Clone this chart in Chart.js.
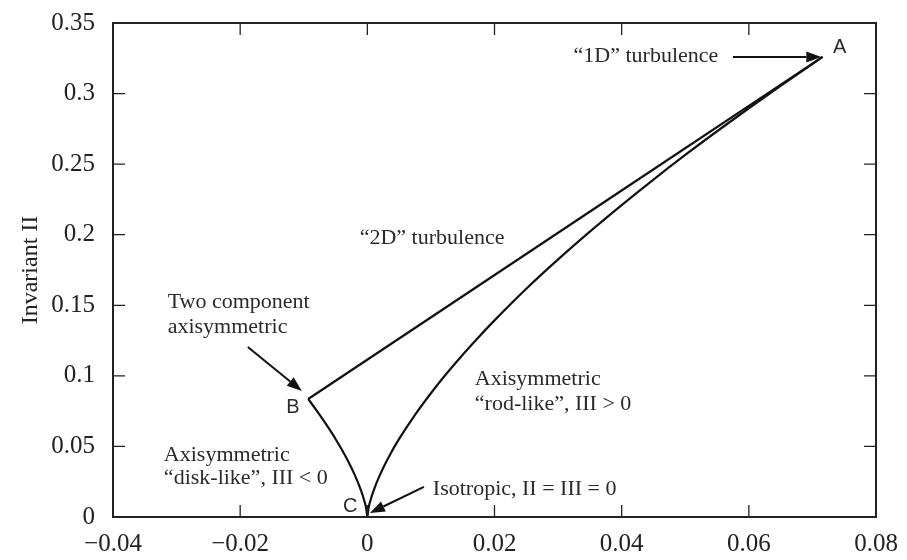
<!DOCTYPE html>
<html>
<head>
<meta charset="utf-8">
<title>Lumley triangle</title>
<script src="https://cdn.jsdelivr.net/npm/chart.js@4.4.1/dist/chart.umd.min.js"></script>
<style>
    html, body { margin: 0; padding: 0; background: #fff; }
    canvas { display: block; }
</style>
</head>
<body>
<canvas id="chart" width="907" height="560"></canvas>
<script>
// ========================================
// DATA - [III, II]
// ========================================
const rodLikeIII = [0, 0.0002, 0.0005, 0.001, 0.002, 0.0035, 0.005, 0.0075, 0.01, 0.0125, 0.015, 0.0175, 0.02, 0.025, 0.03, 0.035, 0.04, 0.045, 0.05, 0.055, 0.06, 0.065, 0.0716];
const rodLikeII  = [0, 0.0065, 0.0119, 0.0189, 0.0300, 0.0436, 0.0553, 0.0724, 0.0877, 0.1018, 0.1150, 0.1274, 0.1393, 0.1617, 0.1825, 0.2022, 0.2210, 0.2391, 0.2565, 0.2733, 0.2896, 0.3054, 0.326];

// from B down to C
const diskLikeIII = [-0.0093, -0.008, -0.007, -0.006, -0.005, -0.004, -0.003, -0.002, -0.001, -0.0005, -0.0002, 0];
const diskLikeII  = [0.0836, 0.0756, 0.0692, 0.0624, 0.0553, 0.0476, 0.0393, 0.0300, 0.0189, 0.0119, 0.0065, 0];

const twoCompIII = [-0.0093, 0.0716];
const twoCompII  = [0.0836, 0.326];

const xTicks = [-0.04, -0.02, 0, 0.02, 0.04, 0.06, 0.08];
const yTicks = [0, 0.05, 0.1, 0.15, 0.2, 0.25, 0.3, 0.35];

// ========================================
// ANNOTATIONS (data coordinates)
// ========================================
const SERIF = "'Liberation Serif', 'DejaVu Serif', serif";
const SANS = "'Liberation Sans', Arial, sans-serif";

const notes = [
    { text: '\u201C1D\u201D turbulence', x: 0.0552, y: 0.3266, align: 'right' },
    { text: '\u201C2D\u201D turbulence', x: -0.0012, y: 0.1977 },
    { text: 'Two component', x: -0.0314, y: 0.1523 },
    { text: 'axisymmetric', x: -0.0314, y: 0.1346 },
    { text: 'Axisymmetric', x: -0.0320, y: 0.0439 },
    { text: '\u201Cdisk-like\u201D, III < 0', x: -0.0320, y: 0.0276 },
    { text: 'Axisymmetric', x: 0.0169, y: 0.0978 },
    { text: '\u201Crod-like\u201D, III > 0', x: 0.0169, y: 0.0801 },
    { text: 'Isotropic, II = III = 0', x: 0.0103, y: 0.0198 }
];

const letters = [
    { text: 'A', x: 0.0743, y: 0.3323 },
    { text: 'B', x: -0.0117, y: 0.0779 },
    { text: 'C', x: -0.0027, y: 0.0078 }
];

const arrows = [
    { x1: 0.0575, y1: 0.3259, x2: 0.0714, y2: 0.3259 },
    { x1: -0.0188, y1: 0.1204, x2: -0.0103, y2: 0.0893 },
    { x1: 0.0089, y1: 0.0213, x2: 0.0004, y2: 0.0028 }
];

function toPoints(xs, ys) {
    return xs.map((x, i) => ({ x: x, y: ys[i] }));
}

function fmt(v) {
    if (Math.abs(v) < 1e-9) return '0';
    return String(+v.toFixed(2)).replace('-', '\u2212');
}

// ========================================
// PLUGIN: frame, inward ticks, notes
// ========================================
const framePlugin = {
    id: 'frame',
    afterDraw(chart) {
        const ctx = chart.ctx;
        const a = chart.chartArea;
        const xs = chart.scales.x;
        const ys = chart.scales.y;
        const tick = 12;

        ctx.save();
        ctx.strokeStyle = '#222';
        ctx.lineWidth = 2;
        ctx.strokeRect(a.left, a.top, a.right - a.left, a.bottom - a.top);

        ctx.lineWidth = 1.3;
        ctx.beginPath();
        xTicks.forEach(v => {
            const px = xs.getPixelForValue(v);
            if (px <= a.left + 1 || px >= a.right - 1) return;
            ctx.moveTo(px, a.bottom); ctx.lineTo(px, a.bottom - tick);
            ctx.moveTo(px, a.top); ctx.lineTo(px, a.top + tick);
        });
        yTicks.forEach(v => {
            const py = ys.getPixelForValue(v);
            if (py <= a.top + 1 || py >= a.bottom - 1) return;
            ctx.moveTo(a.left, py); ctx.lineTo(a.left + tick, py);
            ctx.moveTo(a.right, py); ctx.lineTo(a.right - tick, py);
        });
        ctx.stroke();

        // text notes
        ctx.fillStyle = '#2a2a2a';
        ctx.font = '22px ' + SERIF;
        ctx.textBaseline = 'middle';
        notes.forEach(n => {
            ctx.textAlign = n.align || 'left';
            ctx.fillText(n.text, xs.getPixelForValue(n.x), ys.getPixelForValue(n.y));
        });

        ctx.font = '20px ' + SANS;
        ctx.textAlign = 'center';
        letters.forEach(n => {
            ctx.fillText(n.text, xs.getPixelForValue(n.x), ys.getPixelForValue(n.y));
        });

        // arrows
        ctx.strokeStyle = '#111';
        ctx.fillStyle = '#111';
        ctx.lineWidth = 2;
        arrows.forEach(ar => {
            const x1 = xs.getPixelForValue(ar.x1), y1 = ys.getPixelForValue(ar.y1);
            const x2 = xs.getPixelForValue(ar.x2), y2 = ys.getPixelForValue(ar.y2);
            const ang = Math.atan2(y2 - y1, x2 - x1);
            const len = 15, half = 5.5;
            const bx = x2 - len * Math.cos(ang), by = y2 - len * Math.sin(ang);
            ctx.beginPath();
            ctx.moveTo(x1, y1);
            ctx.lineTo(bx, by);
            ctx.stroke();
            ctx.beginPath();
            ctx.moveTo(x2, y2);
            ctx.lineTo(bx + half * Math.sin(ang), by - half * Math.cos(ang));
            ctx.lineTo(bx - half * Math.sin(ang), by + half * Math.cos(ang));
            ctx.closePath();
            ctx.fill();
        });
        ctx.restore();
    }
};

// ========================================
// CHART
// ========================================
const lineStyle = {
    showLine: true,
    borderColor: '#111',
    borderWidth: 2.2,
    pointRadius: 0,
    fill: false,
    cubicInterpolationMode: 'monotone'
};

new Chart(document.getElementById('chart').getContext('2d'), {
    type: 'scatter',
    data: {
        datasets: [
            Object.assign({ label: 'rod-like', data: toPoints(rodLikeIII, rodLikeII) }, lineStyle),
            Object.assign({ label: 'disk-like', data: toPoints(diskLikeIII, diskLikeII) }, lineStyle),
            Object.assign({ label: 'two component', data: toPoints(twoCompIII, twoCompII) }, lineStyle)
        ]
    },
    options: {
        responsive: false,
        animation: false,
        devicePixelRatio: 1,
        layout: { padding: { top: 23, right: 31, left: 0, bottom: 0 } },
        plugins: {
            legend: { display: false },
            tooltip: { enabled: false }
        },
        scales: {
            x: {
                type: 'linear',
                min: -0.04,
                max: 0.08,
                afterBuildTicks: s => { s.ticks = xTicks.map(v => ({ value: v })); },
                afterFit: s => { s.height = 43; s.paddingLeft = 0; s.paddingRight = 0; },
                grid: { display: false, drawTicks: false },
                border: { display: false },
                ticks: {
                    padding: 12,
                    color: '#222',
                    font: { family: SERIF, size: 25 },
                    maxRotation: 0,
                    callback: v => fmt(v)
                }
            },
            y: {
                type: 'linear',
                min: 0,
                max: 0.35,
                afterBuildTicks: s => { s.ticks = yTicks.map(v => ({ value: v })); },
                afterFit: s => { s.width = 113; s.paddingTop = 0; s.paddingBottom = 0; },
                grid: { display: false, drawTicks: false },
                border: { display: false },
                title: {
                    display: true,
                    text: 'Invariant II',
                    color: '#222',
                    font: { family: SERIF, size: 24 },
                    padding: { top: 16, bottom: 0 }
                },
                ticks: {
                    padding: 18,
                    color: '#222',
                    font: { family: SERIF, size: 25 },
                    callback: v => fmt(v)
                }
            }
        }
    },
    plugins: [framePlugin]
});
</script>
</body>
</html>
